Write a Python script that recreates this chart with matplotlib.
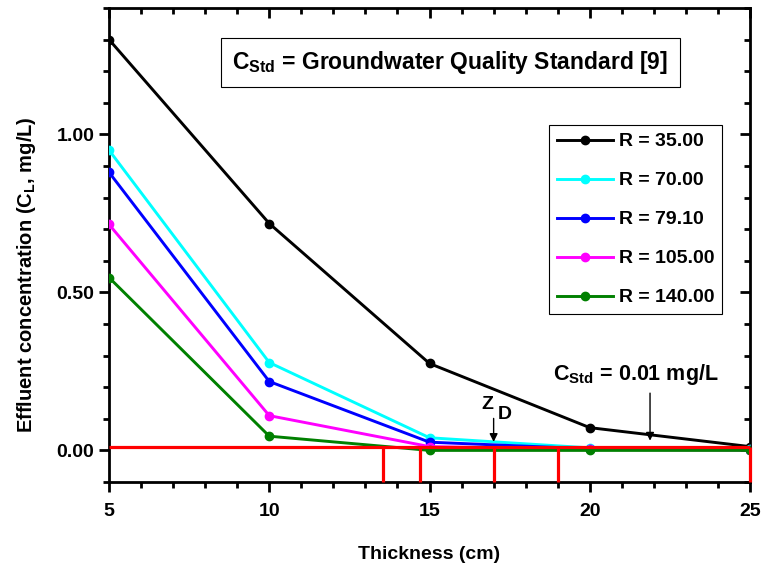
import numpy as np
import matplotlib
matplotlib.use("Agg")
import matplotlib.pyplot as plt
from matplotlib.ticker import MultipleLocator

plt.rcParams['font.family'] = ['Liberation Sans', 'DejaVu Sans']
plt.rcParams['font.weight'] = 'bold'
plt.rcParams['mathtext.fontset'] = 'custom'
plt.rcParams['mathtext.rm'] = 'Liberation Sans:bold'
plt.rcParams['mathtext.bf'] = 'Liberation Sans:bold'
plt.rcParams['mathtext.it'] = 'Liberation Sans:bold'

# data
thickness = [5, 10, 15, 20, 25]
labels = ['R = 35.00', 'R = 70.00', 'R = 79.10', 'R = 105.00', 'R = 140.00']
colors = ['black', 'cyan', 'blue', 'magenta', 'green']
c_r35 = [1.30, 0.718, 0.275, 0.072, 0.012]
c_r70 = [0.95, 0.278, 0.040, 0.008, 0.003]
c_r79 = [0.88, 0.218, 0.026, 0.005, 0.002]
c_r105 = [0.715, 0.110, 0.012, 0.003, 0.001]
c_r140 = [0.547, 0.045, 0.000, 0.000, 0.000]
series = [c_r35, c_r70, c_r79, c_r105, c_r140]

c_std = 0.01
red_x = [13.55, 14.7, 17.0, 19.0, 25.0]

fig = plt.figure(figsize=(7.63, 5.66), dpi=100)
ax = fig.add_axes([0.1429, 0.1484, 0.8401, 0.8375])

for vals, lab, col in zip(series, labels, colors):
    ax.plot(thickness, vals, '-o', color=col, lw=2.1, ms=6, label=lab, zorder=3)

# standard line and red droppers
ax.hlines(c_std, 5, 25, color='red', lw=2.3, zorder=4)
ax.vlines(red_x, -0.1, c_std, color='red', lw=2.3, zorder=4, clip_on=False)

ax.set_xlim(5, 25)
ax.set_ylim(-0.1, 1.4)
ax.set_xticks([5, 10, 15, 20, 25])
ax.set_yticks([0.0, 0.5, 1.0])
ax.set_yticklabels(['0.00', '0.50', '1.00'])
ax.xaxis.set_minor_locator(MultipleLocator(1))
ax.yaxis.set_minor_locator(MultipleLocator(0.1))

for s in ax.spines.values():
    s.set_linewidth(2)
ax.tick_params(which='both', direction='out', width=2, labelsize=14, top=False, right=False)
ax.tick_params(which='major', length=7)
ax.tick_params(which='minor', length=4)
ax.tick_params(axis='x', pad=8)
# inward ticks on top and right
ax2 = ax.secondary_xaxis('top')
ax2.set_xticks([5, 10, 15, 20, 25])
ax2.xaxis.set_minor_locator(MultipleLocator(1))
ax2.tick_params(which='both', direction='in', width=2, labeltop=False)
ax2.tick_params(which='major', length=7)
ax2.tick_params(which='minor', length=4)
ax3 = ax.secondary_yaxis('right')
ax3.set_yticks([0.0, 0.5, 1.0])
ax3.yaxis.set_minor_locator(MultipleLocator(0.1))
ax3.tick_params(which='both', direction='in', width=2, labelright=False)
ax3.tick_params(which='major', length=7)
ax3.tick_params(which='minor', length=4)

ax.set_xlabel('Thickness (cm)', fontsize=14, fontweight='bold', labelpad=19)
ax.set_ylabel('Effluent concentration (C$_{L}$, mg/L)', fontsize=14.5, fontweight='bold')
ax.yaxis.set_label_coords(-0.111, 0.437)

leg = ax.legend(loc='upper left', bbox_to_anchor=(0.686, 0.753), fontsize=14,
                handlelength=2.9, labelspacing=1.1, borderpad=0.4, handletextpad=0.3,
                fancybox=False, framealpha=1, edgecolor='black', borderaxespad=0)
leg.get_frame().set_linewidth(0.8)

ax.text(0.532, 0.885, r'C$_{\mathrm{Std}}$ = Groundwater Quality Standard [9]',
        transform=ax.transAxes, ha='center', va='center', fontsize=16.5, fontweight='bold',
        bbox=dict(boxstyle='square,pad=0.5', fc='white', ec='black', lw=0.8))

ax.annotate('', xy=(21.88, 0.022), xytext=(21.88, 0.19),
            arrowprops=dict(arrowstyle='-|>', color='black', lw=1, mutation_scale=12))
ax.text(21.44, 0.24, r'C$_{\mathrm{Std}}$ = 0.01 mg/L', ha='center', va='center',
        fontsize=15.5, fontweight='bold')

ax.annotate('', xy=(17.0, 0.018), xytext=(17.0, 0.11),
            arrowprops=dict(arrowstyle='-|>', color='black', lw=1, mutation_scale=12))
ax.text(16.8, 0.145, 'Z', ha='center', va='center', fontsize=14, fontweight='bold')
ax.text(17.35, 0.115, 'D', ha='center', va='center', fontsize=14, fontweight='bold')

fig.savefig('out.png', dpi=100)
